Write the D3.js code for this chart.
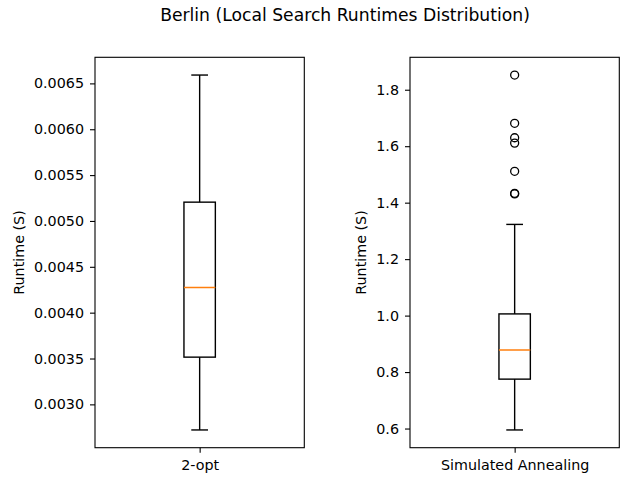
<!DOCTYPE html>
<html>
<head>
<meta charset="utf-8">
<script src="https://cdn.jsdelivr.net/npm/d3@7"></script>
<style>
  html, body { margin: 0; padding: 0; background: #ffffff; }
  svg { display: block; font-family: "DejaVu Sans", sans-serif; }
</style>
</head>
<body>
<svg id="chart" width="624" height="479"></svg>
<script>
// Summary statistics of the runtime samples, one entry per method
const categories = ["2-opt", "Simulated Annealing"];
const whiskerLow  = [0.002721, 0.595];
const q1          = [0.003515, 0.775];
const median      = [0.004274, 0.878];
const q3          = [0.005205, 1.006];
const whiskerHigh = [0.006591, 1.323];
const outliers    = [[], [1.852, 1.681, 1.630, 1.611, 1.511, 1.433, 1.431]];

// Tick values and their printed labels for each panel
const yTicks = [
  [0.0030, 0.0035, 0.0040, 0.0045, 0.0050, 0.0055, 0.0060, 0.0065],
  [0.6, 0.8, 1.0, 1.2, 1.4, 1.6, 1.8]
];
const yTickLabels = [
  ["0.0030", "0.0035", "0.0040", "0.0045", "0.0050", "0.0055", "0.0060", "0.0065"],
  ["0.6", "0.8", "1.0", "1.2", "1.4", "1.6", "1.8"]
];

const title = "Berlin (Local Search Runtimes Distribution)";
const yLabel = "Runtime (S)";

const svg = d3.select("#chart");
const panels = [
  { left: 95, right: 304.3, labelX: 23.5 },
  { left: 410, right: 619.3, labelX: 365.5 }
];
const plotTop = 57.3, plotBottom = 447.7;
const fontSize = 14.3;

svg.append("text")
  .attr("x", 345).attr("y", 20.5)
  .attr("text-anchor", "middle")
  .attr("font-size", 17.2)
  .attr("fill", "#000")
  .text(title);

categories.forEach((cat, i) => {
  const p = panels[i];
  const lo = Math.min(whiskerLow[i], ...outliers[i]);
  const hi = Math.max(whiskerHigh[i], ...outliers[i]);
  const pad = (hi - lo) * 0.05;
  const y = d3.scaleLinear().domain([lo - pad, hi + pad]).range([plotBottom, plotTop]);
  const x = d3.scaleLinear().domain([0.5, 1.5]).range([p.left, p.right]);
  const g = svg.append("g");

  // Y axis
  const yAxis = d3.axisLeft(y)
    .tickValues(yTicks[i])
    .tickFormat((d, k) => yTickLabels[i][k])
    .tickSize(5).tickPadding(6);
  const ya = g.append("g").attr("transform", `translate(${p.left},0)`).call(yAxis);
  ya.select(".domain").remove();
  ya.selectAll("line").attr("stroke", "#000").attr("stroke-width", 1.1);
  ya.selectAll("text").attr("font-size", fontSize).attr("fill", "#000")
    .attr("font-family", "DejaVu Sans");

  // X axis
  const xAxis = d3.axisBottom(x)
    .tickValues([1])
    .tickFormat(() => cat)
    .tickSize(5).tickPadding(7);
  const xa = g.append("g").attr("transform", `translate(0,${plotBottom})`).call(xAxis);
  xa.select(".domain").remove();
  xa.selectAll("line").attr("stroke", "#000").attr("stroke-width", 1.1);
  xa.selectAll("text").attr("font-size", fontSize).attr("fill", "#000")
    .attr("font-family", "DejaVu Sans");

  // Axes frame
  g.append("rect")
    .attr("x", p.left).attr("y", plotTop)
    .attr("width", p.right - p.left).attr("height", plotBottom - plotTop)
    .attr("fill", "none").attr("stroke", "#000").attr("stroke-width", 1.1);

  // Y label
  g.append("text")
    .attr("transform", `translate(${p.labelX},${(plotTop + plotBottom) / 2}) rotate(-90)`)
    .attr("text-anchor", "middle")
    .attr("font-size", fontSize)
    .attr("fill", "#000")
    .text(yLabel);

  const boxHalf = 0.075, capHalf = 0.04;
  const line = (x1, y1, x2, y2, color) => g.append("line")
    .attr("x1", x1).attr("y1", y1).attr("x2", x2).attr("y2", y2)
    .attr("stroke", color || "#000").attr("stroke-width", 1.4);

  // Whiskers and caps
  line(x(1), y(whiskerLow[i]), x(1), y(q1[i]));
  line(x(1), y(q3[i]), x(1), y(whiskerHigh[i]));
  line(x(1 - capHalf), y(whiskerLow[i]), x(1 + capHalf), y(whiskerLow[i]));
  line(x(1 - capHalf), y(whiskerHigh[i]), x(1 + capHalf), y(whiskerHigh[i]));

  // Box
  g.append("rect")
    .attr("x", x(1 - boxHalf)).attr("y", y(q3[i]))
    .attr("width", x(1 + boxHalf) - x(1 - boxHalf))
    .attr("height", y(q1[i]) - y(q3[i]))
    .attr("fill", "none").attr("stroke", "#000").attr("stroke-width", 1.4);

  // Median
  line(x(1 - boxHalf), y(median[i]), x(1 + boxHalf), y(median[i]), "#ff7f0e");

  // Outliers
  g.selectAll("circle.flier").data(outliers[i]).enter().append("circle")
    .attr("class", "flier")
    .attr("cx", x(1)).attr("cy", d => y(d)).attr("r", 4)
    .attr("fill", "none").attr("stroke", "#000").attr("stroke-width", 1.3);
});
</script>
</body>
</html>
